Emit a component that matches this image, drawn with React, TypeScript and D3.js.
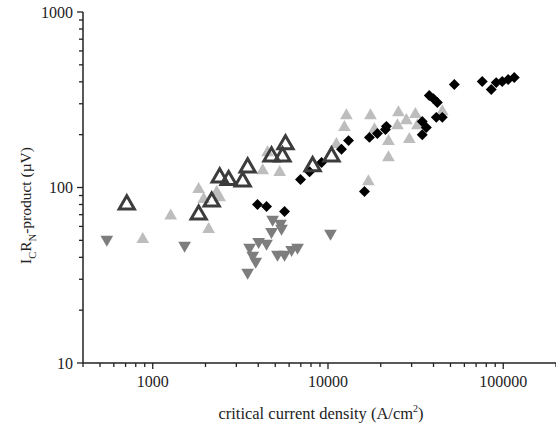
import React, { useEffect, useRef } from "react";
import * as d3 from "d3";

// open dark triangles
const openTriX = [711, 1828, 2170, 2410, 2710, 3260, 3480, 4760, 5500, 5720, 8170, 10470];
const openTriY = [80, 70, 83, 114, 110, 108, 130, 150, 150, 176, 132, 150];

// light grey filled triangles
const lightTriX = [877, 1266, 1828, 1954, 2085, 2316, 2410, 4240, 5300, 4520, 11170, 12740, 12410, 17470, 18410, 22130, 22130, 25230, 24900, 28000, 31530, 29110, 32370, 44900, 17000];
const lightTriY = [50.6, 69, 97.5, 85.5, 57.7, 93.7, 87.7, 125, 122, 158, 176, 257, 220, 257, 214, 183, 148, 267, 225, 241, 261, 188, 225, 271, 108];

// medium grey down triangles
const downTriX = [547, 1520, 4830, 5360, 4760, 5430, 4020, 4460, 3570, 3720, 3870, 3480, 5150, 5650, 6200, 6700, 10330];
const downTriY = [50.6, 46.8, 65.8, 62.4, 56.1, 58.4, 49.2, 48, 45.5, 41, 37.9, 32.8, 41.5, 41.5, 44.3, 45.5, 54.7];

// black diamonds
const diamondX = [3960, 4460, 5650, 6970, 7850, 9190, 11940, 13100, 16150, 17240, 19140, 21270, 21540, 34500, 36400, 34500, 41500, 44900, 37840, 39920, 42070, 52600, 75900, 85400, 91200, 98700, 106700, 115600];
const diamondY = [80, 78, 73, 111, 123, 139, 165, 185, 95, 193, 203, 214, 223, 238, 220, 200, 251, 251, 334, 321, 305, 386, 402, 362, 396, 402, 412, 423];

const xTicks = [1000, 10000, 100000];
const yTicks = [10, 100, 1000];

export default function App() {
  const ref = useRef<SVGSVGElement>(null);

  useEffect(() => {
    const svg = d3.select(ref.current);
    svg.selectAll("*").remove();
    const width = 556;
    const height = 428;
    const margin = { top: 12, right: 0, bottom: 65, left: 83 };
    const font = "Liberation Serif, DejaVu Serif, serif";

    const x = d3.scaleLog().domain([400, 200000]).range([margin.left, width - margin.right]);
    const y = d3.scaleLog().domain([10, 1000]).range([height - margin.bottom, margin.top]);

    const minorX: number[] = [];
    for (let e = 2; e <= 5; e++) for (let m = 1; m <= 9; m++) {
      const v = m * Math.pow(10, e);
      if (v >= 400 && v <= 200000) minorX.push(v);
    }
    const minorY: number[] = [];
    for (let e = 1; e <= 2; e++) for (let m = 2; m <= 9; m++) minorY.push(m * Math.pow(10, e));

    const axisColor = "#222";
    // x axis
    const gx = svg.append("g").attr("transform", `translate(0,${y(10)})`);
    gx.append("line").attr("x1", x(400)).attr("x2", width).attr("stroke", axisColor).attr("stroke-width", 1.5);
    gx.selectAll(".mx").data(minorX).enter().append("line")
      .attr("x1", d => x(d)).attr("x2", d => x(d)).attr("y1", 0)
      .attr("y2", d => (xTicks.includes(d) ? 6 : 4))
      .attr("stroke", axisColor).attr("stroke-width", 1.3);
    gx.selectAll("text").data(xTicks).enter().append("text")
      .attr("x", d => x(d)).attr("y", 24).attr("text-anchor", "middle")
      .attr("font-family", font).attr("font-size", 16).attr("fill", "#222")
      .text(d => String(d));

    // y axis
    const gy = svg.append("g").attr("transform", `translate(${x(400)},0)`);
    gy.append("line").attr("y1", y(1000)).attr("y2", y(10)).attr("stroke", axisColor).attr("stroke-width", 1.5);
    gy.selectAll(".my").data(yTicks.concat(minorY)).enter().append("line")
      .attr("y1", d => y(d)).attr("y2", d => y(d)).attr("x1", 0)
      .attr("x2", d => (yTicks.includes(d) ? -6 : -4))
      .attr("stroke", axisColor).attr("stroke-width", 1.3);
    gy.selectAll("text").data(yTicks).enter().append("text")
      .attr("x", -10).attr("y", d => y(d)).attr("dy", "0.35em").attr("text-anchor", "end")
      .attr("font-family", font).attr("font-size", 16).attr("fill", "#222")
      .text(d => String(d));

    const plot = svg.append("g");
    const tri = (size: number) => d3.symbol().type(d3.symbolTriangle).size(size)();
    const sq = d3.symbol().type(d3.symbolSquare).size(60)();

    plot.selectAll(".lt").data(lightTriX).enter().append("path")
      .attr("d", tri(70))
      .attr("transform", (d, i) => `translate(${x(d)},${y(lightTriY[i])})`)
      .attr("fill", "#bdbdbd");

    plot.selectAll(".dt").data(downTriX).enter().append("path")
      .attr("d", tri(70))
      .attr("transform", (d, i) => `translate(${x(d)},${y(downTriY[i])}) rotate(180)`)
      .attr("fill", "#7d7d7d");

    plot.selectAll(".dm").data(diamondX).enter().append("path")
      .attr("d", sq)
      .attr("transform", (d, i) => `translate(${x(d)},${y(diamondY[i])}) rotate(45)`)
      .attr("fill", "#000");

    plot.selectAll(".ot").data(openTriX).enter().append("path")
      .attr("d", tri(100))
      .attr("transform", (d, i) => `translate(${x(d)},${y(openTriY[i])})`)
      .attr("fill", "none").attr("stroke", "#3c3c3c").attr("stroke-width", 3)
      .attr("stroke-linejoin", "miter");

    // x label
    const xl = svg.append("text")
      .attr("x", 321).attr("y", 419).attr("text-anchor", "middle")
      .attr("font-family", font).attr("font-size", 16.5).attr("fill", "#222");
    xl.append("tspan").text("critical current density (A/cm");
    xl.append("tspan").attr("dy", -7).attr("font-size", 10).text("2");
    xl.append("tspan").attr("dy", 7).text(")");

    // y label
    const yl = svg.append("text")
      .attr("transform", `translate(31,${y(100) + 18}) rotate(-90)`)
      .attr("text-anchor", "middle")
      .attr("font-family", font).attr("font-size", 15.5).attr("fill", "#222");
    yl.append("tspan").text("I");
    yl.append("tspan").attr("dy", 5).attr("font-size", 10.5).text("C");
    yl.append("tspan").attr("dy", -5).text("R");
    yl.append("tspan").attr("dy", 5).attr("font-size", 10.5).text("N");
    yl.append("tspan").attr("dy", -5).text("-product (\u00b5V)");
  }, []);

  return <svg ref={ref} width={556} height={428} style={{ display: "block", position: "absolute", left: 0, top: 0 }} />;
}
